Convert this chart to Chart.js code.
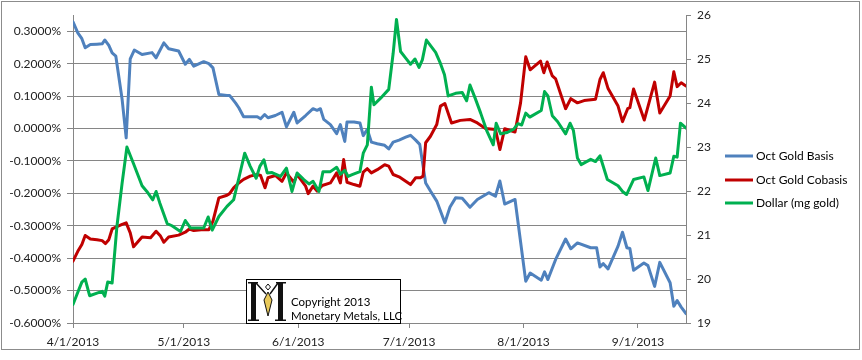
<!DOCTYPE html>
<html><head><meta charset="utf-8">
<script src="https://cdn.jsdelivr.net/npm/chart.js@4.4.1/dist/chart.umd.min.js"></script>
<style>html,body{margin:0;padding:0;background:#fff}#wrap{width:862px;height:360px;position:relative}</style>
</head><body><div id="wrap"><canvas id="c" width="862" height="360"></canvas></div>
<script>
// x positions are days since 4/1/2013
const tickDays = [0, 30, 61, 91, 122, 153];
const tickLabels = ['4/1/2013', '5/1/2013', '6/1/2013', '7/1/2013', '8/1/2013', '9/1/2013'];
const leftTicks = [-0.6, -0.5, -0.4, -0.3, -0.2, -0.1, 0, 0.1, 0.2, 0.3];
const rightTicks = [19, 20, 21, 22, 23, 24, 25, 26];
const seriesNames = ['Oct Gold Basis', 'Oct Gold Cobasis', 'Dollar (mg gold)'];

const basisDays = [0,1.3,2.4,3.3,4.7,6.5,7.9,8.6,9.7,10.6,11.6,13.3,14.4,15.5,16.6,18.7,21.4,22.5,24.6,25.9,28.6,30.4,31.5,32.7,35.4,36.8,37.9,39.5,41.7,42.4,44.0,44.9,46.2,48.0,49.9,50.8,51.9,52.8,54.8,56.6,57.8,59.8,60.7,63.0,65.0,66.1,67.0,67.9,69.7,71.4,72.4,73.6,74.2,76.1,77.7,78.6,79.7,80.8,82.4,84.4,85.5,86.7,88.3,90.1,91.4,92.8,93.9,95.5,96.8,98.5,100.7,102.1,103.6,105.4,107.5,109.5,112.6,114.4,115.6,116.9,119.7,122.6,123.8,126.8,127.7,128.6,130.7,133.4,134.8,136.6,140.2,141.8,142.7,143.6,144.9,147.6,148.8,150.0,150.8,151.8,154.6,155.7,157.5,158.9,161.7,162.7,163.6,164.7,166];
const basisPct = [0.329,0.295,0.277,0.249,0.259,0.260,0.261,0.273,0.256,0.233,0.223,0.090,-0.029,0.215,0.242,0.228,0.234,0.218,0.264,0.246,0.239,0.198,0.213,0.192,0.206,0.200,0.187,0.105,0.102,0.102,0.079,0.064,0.036,0.036,0.036,0.030,0.043,0.033,0.040,0.050,0.005,0.050,0.017,0.040,0.061,0.056,0.061,0.028,0.012,-0.016,0.012,-0.040,0.020,0.020,0.017,-0.022,-0.003,-0.042,-0.047,-0.052,-0.063,-0.042,-0.036,-0.027,-0.021,-0.036,-0.049,-0.168,-0.193,-0.224,-0.291,-0.242,-0.214,-0.215,-0.243,-0.219,-0.198,-0.209,-0.162,-0.233,-0.219,-0.471,-0.446,-0.468,-0.442,-0.466,-0.404,-0.341,-0.371,-0.353,-0.368,-0.368,-0.427,-0.417,-0.433,-0.363,-0.320,-0.368,-0.370,-0.437,-0.415,-0.423,-0.487,-0.413,-0.476,-0.548,-0.531,-0.551,-0.571];

const cobasisDays = [0,1.3,2.4,3.3,4.7,6.5,7.9,8.8,9.7,10.6,11.9,13.3,14.4,15.5,16.4,18.7,21.0,22.5,23.7,24.6,25.9,28.6,30.4,31.5,32.7,35.4,36.8,37.9,39.5,41.7,42.4,43.5,44.9,46.2,48.0,49.9,50.8,52.0,52.8,54.8,56.6,57.8,59.8,60.7,63.0,63.7,65.0,66.1,67.5,69.7,71.4,72.4,73.3,74.2,76.1,77.7,78.6,79.7,80.8,82.4,84.4,85.5,86.7,88.3,90.1,91.4,92.8,94.1,94.8,95.5,96.8,98.5,99.5,100.7,102.5,104.9,107.5,109.5,111.7,114.4,115.6,116.9,119.7,121.2,122.6,123.8,126.6,127.5,128.4,129.8,130.7,132.1,133.4,134.8,136.6,138.4,141.5,142.7,143.6,144.9,147.6,148.8,150.2,150.8,151.8,154.7,157.5,158.9,161.7,162.7,163.6,164.7,166];
const cobasisPct = [-0.409,-0.379,-0.358,-0.330,-0.341,-0.343,-0.346,-0.355,-0.343,-0.310,-0.303,-0.296,-0.291,-0.322,-0.365,-0.335,-0.337,-0.317,-0.332,-0.351,-0.335,-0.329,-0.320,-0.310,-0.315,-0.312,-0.312,-0.286,-0.214,-0.206,-0.201,-0.183,-0.168,-0.157,-0.147,-0.142,-0.145,-0.183,-0.152,-0.145,-0.163,-0.137,-0.166,-0.142,-0.178,-0.201,-0.178,-0.193,-0.176,-0.168,-0.137,-0.168,-0.096,-0.166,-0.173,-0.178,-0.135,-0.124,-0.137,-0.127,-0.112,-0.116,-0.142,-0.149,-0.163,-0.173,-0.152,-0.152,-0.147,-0.044,-0.024,0.012,0.069,0.077,0.017,0.025,0.028,0.017,0.000,-0.003,-0.065,-0.001,-0.011,0.079,0.221,0.181,0.208,0.172,0.205,0.162,0.153,0.105,0.061,0.092,0.079,0.086,0.090,0.151,0.172,0.123,0.069,0.021,0.061,0.064,0.122,0.026,0.143,0.048,0.100,0.175,0.129,0.141,0.131];

const dollarDays = [0,1.3,2.4,3.3,4.5,6.5,7.9,8.6,9.4,10.6,11.9,13.3,14.6,16.4,18.7,20.0,21.6,22.5,23.5,25.5,26.8,29.1,30.4,31.8,35.4,36.6,37.7,39.5,41.7,43.5,44.9,46.5,48.0,49.6,50.6,51.7,52.6,53.9,56.2,57.8,59.3,60.7,62.5,63.9,65.0,66.6,67.7,69.7,71.4,72.4,73.6,74.5,75.6,77.7,78.6,79.7,80.8,81.5,83.3,85.5,86.7,87.6,88.7,90.1,91.4,92.6,93.7,94.6,95.7,98.2,99.5,100.6,101.6,103.6,105.4,106.6,107.5,108.9,110.4,112.0,113.8,114.6,115.8,117.6,119.4,120.5,121.5,122.6,123.7,126.8,127.7,128.6,129.8,131.2,133.4,134.6,135.5,136.6,137.6,140.2,141.5,142.7,144.7,147.6,148.8,149.9,151.8,154.6,155.7,157.8,158.9,161.7,162.7,163.6,164.5,166];
const dollarMg = [19.42,19.70,19.93,20.00,19.62,19.68,19.72,19.61,19.93,19.91,21.20,22.18,23.00,22.62,22.12,21.99,21.80,21.99,21.73,21.26,21.21,21.08,21.33,21.16,21.16,21.41,21.11,21.42,21.65,21.80,22.29,22.86,22.56,22.29,22.56,22.71,22.41,22.42,22.33,22.52,21.99,22.41,22.26,22.16,22.22,21.99,22.44,22.44,22.54,22.38,22.47,22.33,22.37,22.44,22.86,23.05,24.36,23.96,24.11,24.31,25.13,25.90,25.17,25.02,24.88,25.00,24.81,24.98,25.43,25.15,24.90,24.64,24.16,24.22,24.24,24.05,24.41,24.11,23.77,23.38,23.05,23.54,23.30,23.33,23.41,23.53,23.50,23.77,23.68,23.83,24.26,24.16,23.71,23.58,23.30,23.54,23.38,22.75,22.60,22.72,22.67,22.80,22.26,22.12,21.99,21.92,22.26,22.32,22.01,22.75,22.35,22.41,22.79,22.77,23.54,23.43];

const colors = ['#4F81BD', '#C00000', '#00B050'];
const gridColor = '#868686';
const FONT = 'Lato';

function pts(xs, ys) { return xs.map((x, i) => ({ x: x, y: ys[i] })); }

const decor = {
  id: 'decor',
  afterDraw(chart) {
    const ctx = chart.ctx;
    ctx.save();
    // outer border
    ctx.strokeStyle = '#8c8c8c'; ctx.lineWidth = 1;
    ctx.strokeRect(1.5, 1.5, 858, 348);
    // legend
    const ly = [156, 180, 203];
    ctx.font = '12px ' + FONT; ctx.textBaseline = 'middle'; ctx.textAlign = 'left';
    for (let i = 0; i < 3; i++) {
      ctx.strokeStyle = colors[i]; ctx.lineWidth = 3; ctx.lineCap = 'butt';
      ctx.beginPath(); ctx.moveTo(725, ly[i]); ctx.lineTo(753, ly[i]); ctx.stroke();
      ctx.fillStyle = '#000'; ctx.fillText(seriesNames[i], 756, ly[i] + 0.5);
    }
    // logo box
    ctx.fillStyle = '#fff'; ctx.fillRect(246.5, 279.5, 154, 44);
    ctx.strokeStyle = '#000'; ctx.lineWidth = 1; ctx.strokeRect(246.5, 279.5, 154, 44);
    // stylised M: two thick stems with serifs
    ctx.fillStyle = '#111';
    ctx.fillRect(251, 282, 5, 39);   // left stem
    ctx.fillRect(278, 282, 5, 39);   // right stem
    ctx.fillRect(248, 282, 10, 1.5); ctx.fillRect(276, 282, 10, 1.5);
    ctx.fillRect(248, 319.5, 11, 1.5); ctx.fillRect(275, 319.5, 11, 1.5);
    ctx.strokeStyle = '#111'; ctx.lineWidth = 1.4;
    ctx.beginPath(); ctx.moveTo(256, 283); ctx.lineTo(266, 294); ctx.moveTo(278, 283); ctx.lineTo(270, 294); ctx.stroke();
    // pendant
    ctx.lineWidth = 1;
    ctx.beginPath(); ctx.moveTo(268, 284); ctx.lineTo(270.5, 287); ctx.lineTo(268, 290); ctx.lineTo(265.5, 287); ctx.closePath(); ctx.stroke();
    ctx.fillStyle = '#E8C95A';
    ctx.beginPath(); ctx.moveTo(268, 292); ctx.lineTo(272, 300); ctx.lineTo(268, 316); ctx.lineTo(264, 300); ctx.closePath(); ctx.fill(); ctx.stroke();
    ctx.fillStyle = '#000'; ctx.font = '11.5px ' + FONT; ctx.textBaseline = 'middle';
    ctx.fillText('Copyright 2013', 291, 302);
    ctx.fillText('Monetary Metals, LLC', 291, 316);
    ctx.restore();
  }
};

new Chart(document.getElementById('c'), {
  type: 'line',
  data: {
    datasets: [
      { label: seriesNames[0], data: pts(basisDays, basisPct), borderColor: colors[0], yAxisID: 'yL', order: 2 },
      { label: seriesNames[1], data: pts(cobasisDays, cobasisPct), borderColor: colors[1], yAxisID: 'yL', order: 1 },
      { label: seriesNames[2], data: pts(dollarDays, dollarMg), borderColor: colors[2], yAxisID: 'yR', order: 0 }
    ]
  },
  options: {
    responsive: false, animation: false, devicePixelRatio: 1,
    elements: {
      line: { borderWidth: 3, tension: 0, borderJoinStyle: 'round', borderCapStyle: 'round', fill: false },
      point: { radius: 0, hoverRadius: 0 }
    },
    layout: { padding: { top: 15, left: 0, right: 0, bottom: 0 } },
    plugins: { legend: { display: false }, tooltip: { enabled: false } },
    scales: {
      x: {
        type: 'linear', position: 'bottom', min: 0, max: 166,
        afterBuildTicks: s => { s.ticks = tickDays.map(v => ({ value: v })); },
        afterFit: s => { s.height = 37; },
        ticks: { autoSkip: false, maxRotation: 0, padding: 7, color: '#222', font: { family: FONT, size: 12 },
          callback: v => tickLabels[tickDays.indexOf(v)] },
        grid: { drawOnChartArea: false, drawTicks: true, tickLength: 5, color: gridColor },
        border: { color: gridColor }
      },
      yL: {
        type: 'linear', position: 'left', min: -0.6, max: 0.35,
        afterBuildTicks: s => { s.ticks = leftTicks.map(v => ({ value: v })); },
        afterFit: s => { s.width = 73; },
        ticks: { padding: 6, color: '#222', font: { family: FONT, size: 12 },
          callback: v => v.toFixed(4) + '%' },
        grid: { color: gridColor, tickLength: 6 },
        border: { color: gridColor }
      },
      yR: {
        type: 'linear', position: 'right', min: 19, max: 26,
        afterBuildTicks: s => { s.ticks = rightTicks.map(v => ({ value: v })); },
        afterFit: s => { s.width = 176; },
        ticks: { padding: 6, color: '#222', font: { family: FONT, size: 12 } },
        grid: { drawOnChartArea: false, tickLength: 5, color: gridColor },
        border: { color: gridColor }
      }
    }
  },
  plugins: [decor]
});
</script></body></html>
